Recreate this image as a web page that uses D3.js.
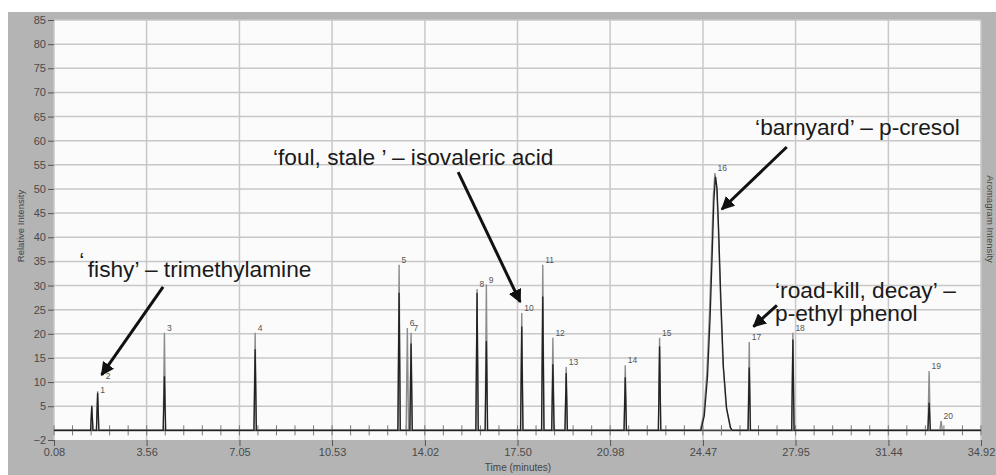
<!DOCTYPE html>
<html>
<head>
<meta charset="utf-8">
<script src="https://cdn.jsdelivr.net/npm/d3@7"></script>
<style>
  body { margin: 0; background: #fff; }
  svg { display: block; font-family: "Liberation Sans", Arial, sans-serif; }
</style>
</head>
<body>
<svg id="chart" width="996" height="475"></svg>
<script>
// axis ticks
const xTicks = [0.08, 3.56, 7.05, 10.53, 14.02, 17.50, 20.98, 24.47, 27.95, 31.44, 34.92];
const yTicks = [-2, 5, 10, 15, 20, 25, 30, 35, 40, 45, 50, 55, 60, 65, 70, 75, 80, 85];

// narrow peaks: retention time (min), chromatogram (gray) and aromagram (black) heights
const peakTimes   = [1.50, 1.72, 4.23, 7.64, 13.05, 13.36, 13.50, 15.98, 16.33, 17.66, 18.45, 18.83, 19.33, 21.55, 22.84, 26.21, 27.85, 32.97, 33.42];
const grayHeights = [5.2, 8.1, 20.2, 20.2, 34.3, 21.2, 20.2, 29.3, 30.2, 24.3, 34.3, 19.2, 13.1, 13.5, 19.2, 18.3, 20.2, 12.3, 1.9];
const blackHeights= [5.0, 7.8, 11.2, 16.8, 28.5, 0, 18.0, 28.5, 18.5, 21.5, 27.7, 13.7, 11.9, 11.0, 17.4, 13.0, 18.8, 5.7, 0];

// broad peak 16 (p-cresol), read point by point
const p16Times = [24.37, 24.50, 24.62, 24.72, 24.80, 24.86, 24.92, 24.98, 25.04, 25.12, 25.22, 25.34, 25.49, 25.55];
const p16Gray  = [0, 3.5, 12, 25, 38, 48.5, 53.3, 51, 43, 29, 14, 5, 0.6, 0];
const p16Black = [0, 3, 11, 23.5, 37, 47.5, 52.5, 50, 41.5, 27.5, 13, 4.5, 0.5, 0];

// peak number labels (anchor time, value)
const labelNames = ['1', '2', '3', '4', '5', '6', '7', '8', '9', '10', '11', '12', '13', '14', '15', '16', '17', '18', '19', '20'];
const labelTimes = [1.72, 1.93, 4.23, 7.64, 13.05, 13.36, 13.50, 15.98, 16.33, 17.66, 18.45, 18.83, 19.33, 21.55, 22.84, 24.92, 26.21, 27.85, 32.97, 33.42];
const labelVals  = [7.3, 10.3, 20.2, 20.2, 34.3, 21.2, 20.2, 29.3, 30.2, 24.3, 34.3, 19.2, 13.1, 13.5, 19.2, 53.3, 18.3, 20.2, 12.3, 1.9];

// annotations: text lines (time, value of baseline start)
const noteTexts = ['\u2018', 'fishy\u2019 \u2013 trimethylamine', '\u2018foul, stale \u2019 \u2013 isovaleric acid',
                   '\u2018barnyard\u2019 \u2013 p-cresol', '\u2018road-kill, decay\u2019 \u2013', 'p-ethyl phenol'];
const noteTimes = [1.03, 1.35, 8.31, 26.43, 27.18, 27.18];
const noteVals  = [33.6, 31.8, 54.9, 61.1, 27.4, 22.6];

// arrows: tail -> head
const arrowFrom = [[4.18, 29.7], [15.27, 53.5], [27.62, 58.7], [27.25, 25.9]];
const arrowTo   = [[1.87, 11.5], [17.60, 26.6], [25.18, 45.8], [26.37, 21.5]];

const svg = d3.select('#chart');
const margin = { top: 20, right: 15, bottom: 35, left: 54 };
const width = 996, height = 475;

const x = d3.scaleLinear().domain([0.08, 34.92]).range([margin.left, width - margin.right]);
const y = d3.scaleLinear().domain([-2, 85]).range([height - margin.bottom, margin.top]);

// gray frame and plot area
svg.append('rect').attr('x', 8).attr('y', 12).attr('width', width - 8).attr('height', height - 12).attr('fill', '#b4b4b4');
svg.append('rect')
  .attr('x', x.range()[0]).attr('y', y.range()[1])
  .attr('width', x.range()[1] - x.range()[0]).attr('height', y.range()[0] - y.range()[1])
  .attr('fill', '#fbfbfb');

// grid
svg.append('g').selectAll('line')
  .data(yTicks.filter(d => d > 0))
  .join('line')
  .attr('x1', x.range()[0]).attr('x2', x.range()[1])
  .attr('y1', d => y(d)).attr('y2', d => y(d))
  .attr('stroke', '#c8c8c8').attr('stroke-width', 1.5);
svg.append('g').selectAll('line')
  .data(xTicks)
  .join('line')
  .attr('x1', d => x(d)).attr('x2', d => x(d))
  .attr('y1', y.range()[1]).attr('y2', y.range()[0])
  .attr('stroke', '#c8c8c8').attr('stroke-width', 1.5);

// axes
const yAxis = svg.append('g')
  .attr('transform', `translate(${margin.left},0)`)
  .call(d3.axisLeft(y).tickValues(yTicks).tickSize(6).tickPadding(2));
const xAxis = svg.append('g')
  .attr('transform', `translate(0,${y.range()[0]})`)
  .call(d3.axisBottom(x).tickValues(xTicks).tickFormat(d3.format('.2f')).tickSize(6).tickPadding(2));
[yAxis, xAxis].forEach(a => {
  a.select('.domain').remove();
  a.selectAll('line').attr('stroke', '#555');
  a.selectAll('text').attr('fill', '#4a4a4a').attr('font-size', 11).attr('font-family', '"Liberation Sans", Arial, sans-serif');
});

// baseline with minor ticks
svg.append('line')
  .attr('x1', x.range()[0]).attr('x2', x.range()[1])
  .attr('y1', y(0)).attr('y2', y(0))
  .attr('stroke', '#444').attr('stroke-width', 1.6);
const minor = d3.range(0, 51).map(i => 0.08 + i * (34.92 - 0.08) / 50);
svg.append('g').selectAll('line')
  .data(minor)
  .join('line')
  .attr('x1', d => x(d)).attr('x2', d => x(d))
  .attr('y1', y(0) - 5).attr('y2', y(0) + 5)
  .attr('stroke', '#777').attr('stroke-width', 1);

// traces
const hw = 0.045;
const line = d3.line().x(d => x(d[0])).y(d => y(d[1]));
function trace(heights, bt, bv) {
  const pts = [[0.08, 0]];
  peakTimes.forEach((t, i) => {
    if (t > bt[0] && pts[pts.length - 1][0] < bt[0]) {
      bt.forEach((tt, j) => pts.push([tt, bv[j]]));
    }
    if (heights[i] > 0) pts.push([t - hw, 0], [t, heights[i]], [t + hw, 0]);
  });
  pts.push([34.92, 0]);
  return pts;
}
svg.append('path').datum(trace(grayHeights, p16Times, p16Gray))
  .attr('d', line).attr('fill', 'none').attr('stroke', '#8c8c8c').attr('stroke-width', 1.4);
svg.append('path').datum(trace(blackHeights, p16Times.map(t => t + 0.02), p16Black))
  .attr('d', line).attr('fill', 'none').attr('stroke', '#222').attr('stroke-width', 1.3);

// peak number labels
svg.append('g').selectAll('text')
  .data(labelNames)
  .join('text')
  .attr('x', (d, i) => x(labelTimes[i]) + 2.5)
  .attr('y', (d, i) => y(labelVals[i]) - 2)
  .attr('font-size', 8.5).attr('fill', '#555')
  .text(d => d);

// annotation arrows
svg.append('defs').append('marker')
  .attr('id', 'ah').attr('viewBox', '0 0 10 10').attr('refX', 9).attr('refY', 5)
  .attr('markerWidth', 4.5).attr('markerHeight', 4.5).attr('orient', 'auto')
  .append('path').attr('d', 'M0,0 L10,5 L0,10 z').attr('fill', '#111');
svg.append('g').selectAll('line')
  .data(arrowFrom)
  .join('line')
  .attr('x1', d => x(d[0])).attr('y1', d => y(d[1]))
  .attr('x2', (d, i) => x(arrowTo[i][0])).attr('y2', (d, i) => y(arrowTo[i][1]))
  .attr('stroke', '#111').attr('stroke-width', 3)
  .attr('marker-end', 'url(#ah)');

// annotation texts
svg.append('g').selectAll('text')
  .data(noteTexts)
  .join('text')
  .attr('x', (d, i) => x(noteTimes[i]))
  .attr('y', (d, i) => y(noteVals[i]))
  .attr('font-size', 22.7).attr('fill', '#1a1a1a')
  .text(d => d);

// axis titles
svg.append('text')
  .attr('transform', `translate(24,226) rotate(-90)`)
  .attr('text-anchor', 'middle').attr('font-size', 9.5).attr('fill', '#444')
  .text('Relative Intensity');
svg.append('text')
  .attr('transform', `translate(987,219) rotate(90)`)
  .attr('text-anchor', 'middle').attr('font-size', 9.5).attr('fill', '#444')
  .text('Aromagram Intensity');
svg.append('text')
  .attr('x', 518).attr('y', 471)
  .attr('text-anchor', 'middle').attr('font-size', 10).attr('fill', '#444')
  .text('Time (minutes)');
</script>
</body>
</html>
